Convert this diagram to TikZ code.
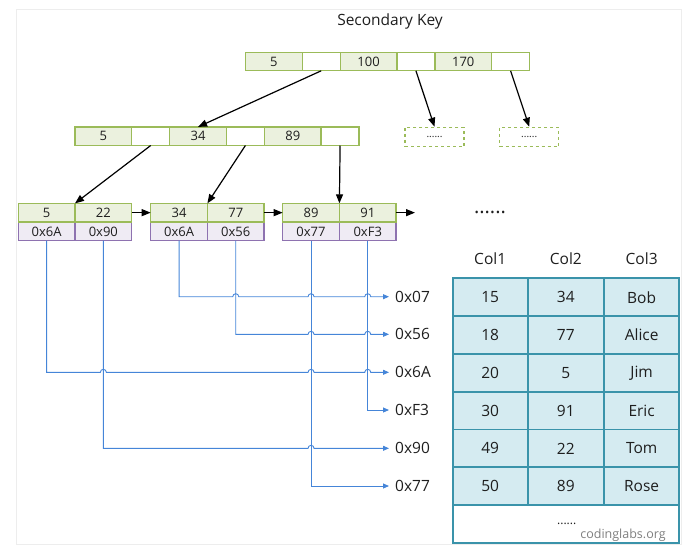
\documentclass[tikz,border=0pt]{standalone}
\usepackage{fontspec}
\setmainfont{Open Sans}
\usetikzlibrary{arrows.meta,calc}
\definecolor{grnfill}{HTML}{EBF1DE}
\definecolor{grnline}{HTML}{9BBB59}
\definecolor{purfill}{HTML}{EFEBF4}
\definecolor{purline}{HTML}{8E72B0}
\definecolor{bluel}{HTML}{4585D8}
\definecolor{tabfill}{HTML}{D5EBF1}
\definecolor{tabline}{HTML}{3A93AA}
\definecolor{framec}{HTML}{EDEDED}
\definecolor{txt}{HTML}{1E1E1E}
\tikzset{
  cellbase/.style={draw, line width=1.3pt, inner sep=0pt, outer sep=0pt, minimum height=18.6pt, font=\fontsize{13}{15}\selectfont, text=txt},
  keyc/.style={cellbase, draw=grnline, fill=grnfill, minimum width=56.7pt},
  ptrc/.style={cellbase, draw=grnline, fill=white, minimum width=38pt},
  adrc/.style={cellbase, draw=purline, fill=purfill, minimum width=56.7pt},
  dashbox/.style={draw=grnline, dashed, line width=1.2pt, minimum width=59pt, minimum height=19.4pt, inner sep=0pt, font=\fontsize{10}{12}\selectfont, text=txt},
  blk/.style={line width=1.2pt, -{Triangle[length=9pt,width=7pt]}},
  bl/.style={draw=bluel, line width=0.9pt, -{Triangle[length=6pt,width=5pt]}},
  addr/.style={anchor=west, inner xsep=6pt, inner ysep=0pt, font=\fontsize{15.5}{18}\selectfont, text=txt},
  tcell/.style={draw=tabline, fill=tabfill, line width=1.8pt, inner sep=0pt, minimum height=37.8pt, font=\fontsize{15.5}{18}\selectfont, text=txt},
  hdr/.style={font=\fontsize{15.5}{18}\selectfont, text=txt, inner sep=0pt}
}
\begin{document}
\begin{tikzpicture}[x=1pt,y=-1pt]
\useasboundingbox (0,0) rectangle (691,552);
\draw[framec, line width=1pt] (16.7,9.3) rectangle (681,544);

\node[hdr] (title) at (390,21.7) {Secondary Key};

% root
\node[keyc] (t1) at (273.85,61.5) {5};
\node[ptrc] (t2) at (321.2,61.5) {};
\node[keyc] (t3) at (368.55,61.5) {100};
\node[ptrc] (t4) at (415.9,61.5) {};
\node[keyc] (t5) at (463.25,61.5) {170};
\node[ptrc] (t6) at (510.6,61.5) {};

% second level
\node[keyc] (s1) at (103.35,136.2) {5};
\node[ptrc] (s2) at (150.7,136.2) {};
\node[keyc] (s3) at (198.05,136.2) {34};
\node[ptrc] (s4) at (245.4,136.2) {};
\node[keyc] (s5) at (292.75,136.2) {89};
\node[ptrc] (s6) at (340.1,136.2) {};

\node[dashbox] (d1) at (434.5,137) {......};
\node[dashbox] (d2) at (529.2,137) {......};

% leaves
\node[adrc] (l1c) at (46.65,231.35) {0x6A};
\node[adrc] (l1d) at (103.35,231.35) {0x90};
\node[keyc] (l1a) at (46.65,212.65) {5};
\node[keyc] (l1b) at (103.35,212.65) {22};
\node[adrc] (l2c) at (179.05,231.35) {0x6A};
\node[adrc] (l2d) at (235.75,231.35) {0x56};
\node[keyc] (l2a) at (179.05,212.65) {34};
\node[keyc] (l2b) at (235.75,212.65) {77};
\node[adrc] (l3c) at (311.05,231.35) {0x77};
\node[adrc] (l3d) at (367.75,231.35) {0xF3};
\node[keyc] (l3a) at (311.05,212.65) {89};
\node[keyc] (l3b) at (367.75,212.65) {91};

\coordinate (lend) at (415,212.65);
\node[font=\fontsize{20}{22}\selectfont, text=txt, inner sep=0pt] (more) at (490,212) {......};

% tree arrows
\draw[blk] (t2.south) -- (s3.north);
\draw[blk] (t4.south) -- (d1.north);
\draw[blk] (t6.south) -- (d2.north);
\draw[blk] (s2.south) -- (l1a.north east);
\draw[blk] (s4.south) -- (l2a.north east);
\draw[blk] (s6.south) -- (l3a.north east);
\draw[blk] (l1b.east) -- (l2a.west);
\draw[blk] (l2b.east) -- (l3a.west);
\draw[blk] (l3b.east) -- (lend);

% address labels
\node[addr] (a07) at (389,296.7) {0x07};
\node[addr] (a56) at (389,334.3) {0x56};
\node[addr] (a6A) at (389,372.3) {0x6A};
\node[addr] (aF3) at (389,410) {0xF3};
\node[addr] (a90) at (389,448.3) {0x90};
\node[addr] (a77) at (389,486) {0x77};

% blue pointer lines
\draw[bl] (l2c.south) -- (l2c.south |- a07.west)
  -- ($(l2d.south |- a07.west)+(-3,0)$) arc[start angle=180,end angle=0,radius=3pt]
  -- ($(l3c.south |- a07.west)+(-3,0)$) arc[start angle=180,end angle=0,radius=3pt]
  -- ($(l3d.south |- a07.west)+(-3,0)$) arc[start angle=180,end angle=0,radius=3pt]
  -- (a07.west);
\draw[bl] (l2d.south) -- (l2d.south |- a56.west)
  -- ($(l3c.south |- a56.west)+(-3,0)$) arc[start angle=180,end angle=0,radius=3pt]
  -- ($(l3d.south |- a56.west)+(-3,0)$) arc[start angle=180,end angle=0,radius=3pt]
  -- (a56.west);
\draw[bl] (l1c.south) -- (l1c.south |- a6A.west)
  -- ($(l1d.south |- a6A.west)+(-3,0)$) arc[start angle=180,end angle=0,radius=3pt]
  -- ($(l3c.south |- a6A.west)+(-3,0)$) arc[start angle=180,end angle=0,radius=3pt]
  -- ($(l3d.south |- a6A.west)+(-3,0)$) arc[start angle=180,end angle=0,radius=3pt]
  -- (a6A.west);
\draw[bl] (l3d.south) -- (l3d.south |- aF3.west) -- (aF3.west);
\draw[bl] (l1d.south) -- (l1d.south |- a90.west)
  -- ($(l3c.south |- a90.west)+(-3,0)$) arc[start angle=180,end angle=0,radius=3pt]
  -- (a90.west);
\draw[bl] (l3c.south) -- (l3c.south |- a77.west) -- (a77.west);

% table
\node[hdr] (h1) at (490.2,258.3) {Col1};
\node[hdr] (h2) at (565.85,258.3) {Col2};
\node[hdr] (h3) at (641.65,258.3) {Col3};
\foreach \r/\y/\a/\b/\c in {1/297.2/15/34/Bob, 2/335/18/77/Alice, 3/372.8/20/5/Jim, 4/410.6/30/91/Eric, 5/448.4/49/22/Tom, 6/486.2/50/89/Rose} {
  \node[tcell, minimum width=75pt] (r\r a) at (490.2,\y) {\a};
  \node[tcell, minimum width=76.3pt] (r\r b) at (565.85,\y) {\b};
  \node[tcell, minimum width=75.3pt] (r\r c) at (641.65,\y) {\c};
}
\node[draw=tabline, fill=white, line width=1.8pt, minimum width=226.6pt, minimum height=37.6pt, inner sep=0pt] (rlast) at (566,523.9) {};
\node[font=\fontsize{12}{14}\selectfont, text=txt, inner sep=0pt] (tdots) at (566.7,524) {......};
\node[font=\fontsize{12.5}{14}\selectfont, text=black!50, inner sep=0pt] (wm) at (623,535) {codinglabs.org};
\end{tikzpicture}
\end{document}
